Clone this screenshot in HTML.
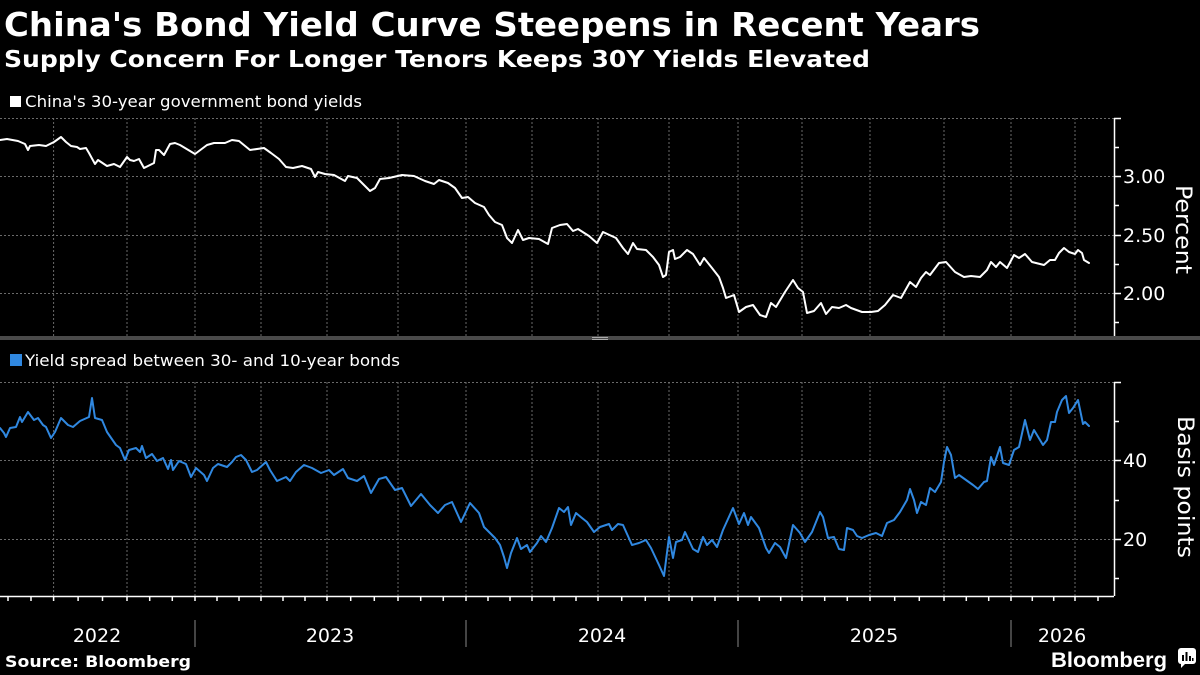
<!DOCTYPE html>
<html>
<head>
<meta charset="utf-8">
<style>
html,body{margin:0;padding:0;background:#000;}
svg{display:block;}
text{font-family:"DejaVu Sans","Liberation Sans",sans-serif;}
</style>
</head>
<body>
<svg width="1200" height="675" viewBox="0 0 1200 675" xmlns="http://www.w3.org/2000/svg">
<rect x="0" y="0" width="1200" height="675" fill="#000"/>

<!-- Titles -->
<text x="4" y="36" font-size="33" font-weight="bold" fill="#fff" textLength="976" lengthAdjust="spacingAndGlyphs">China's Bond Yield Curve Steepens in Recent Years</text>
<text x="4" y="67" font-size="23" font-weight="bold" fill="#fff" textLength="866" lengthAdjust="spacingAndGlyphs">Supply Concern For Longer Tenors Keeps 30Y Yields Elevated</text>

<!-- Legend top -->
<rect x="10" y="96" width="11" height="11" fill="#fff"/>
<text x="25" y="107" font-size="16" fill="#fff" textLength="337" lengthAdjust="spacingAndGlyphs">China's 30-year government bond yields</text>

<!-- Top panel grid -->
<g stroke="#6a6a6a" stroke-width="1" stroke-dasharray="2 2" fill="none">
  <line x1="0" y1="118.5" x2="1114" y2="118.5"/>
  <line x1="0" y1="176.5" x2="1114" y2="176.5"/>
  <line x1="0" y1="235.5" x2="1114" y2="235.5"/>
  <line x1="0" y1="293.5" x2="1114" y2="293.5"/>
  <line x1="53.6" y1="118" x2="53.6" y2="336"/>
  <line x1="127" y1="118" x2="127" y2="336"/>
  <line x1="195" y1="118" x2="195" y2="336"/>
  <line x1="261" y1="118" x2="261" y2="336"/>
  <line x1="327" y1="118" x2="327" y2="336"/>
  <line x1="398" y1="118" x2="398" y2="336"/>
  <line x1="466" y1="118" x2="466" y2="336"/>
  <line x1="532" y1="118" x2="532" y2="336"/>
  <line x1="598" y1="118" x2="598" y2="336"/>
  <line x1="669" y1="118" x2="669" y2="336"/>
  <line x1="738" y1="118" x2="738" y2="336"/>
  <line x1="802" y1="118" x2="802" y2="336"/>
  <line x1="870" y1="118" x2="870" y2="336"/>
  <line x1="944" y1="118" x2="944" y2="336"/>
  <line x1="1011" y1="118" x2="1011" y2="336"/>
  <line x1="1075" y1="118" x2="1075" y2="336"/>
</g>

<!-- Top axis -->
<g stroke="#fff" stroke-width="1.5" fill="none">
  <line x1="1114.5" y1="118" x2="1114.5" y2="336"/>
  <line x1="1114" y1="118.5" x2="1121" y2="118.5"/>
  <line x1="1114" y1="147.5" x2="1119" y2="147.5"/>
  <line x1="1114" y1="176.5" x2="1121" y2="176.5"/>
  <line x1="1114" y1="205.5" x2="1119" y2="205.5"/>
  <line x1="1114" y1="235.5" x2="1121" y2="235.5"/>
  <line x1="1114" y1="264.5" x2="1119" y2="264.5"/>
  <line x1="1114" y1="293.5" x2="1121" y2="293.5"/>
  <line x1="1114" y1="322.5" x2="1119" y2="322.5"/>
</g>
<g font-size="19" fill="#fff">
  <text x="1123" y="183">3.00</text>
  <text x="1123" y="242">2.50</text>
  <text x="1123" y="300">2.00</text>
</g>
<text transform="translate(1176,229.5) rotate(90)" text-anchor="middle" font-size="22" fill="#fff" textLength="89" lengthAdjust="spacingAndGlyphs">Percent</text>

<!-- Top series -->
<polyline fill="none" stroke="#fff" stroke-width="2" stroke-linejoin="round" stroke-linecap="round" points="0,140 7,139 18,141 25,144 28,150 30,146 39,145 46,146 54,142 61,137 66,142 71,146 77,147 80,149 86,148 89,153 95,164 98,160 107,166 114,164 120,167 127,157 130,160 134,161 139,159 144,168 154,163 156,150 159,150 164,155 170,144 175,143 180,145 195,154 207,145 214,143 225,143 232,140 239,141 250,150 264,148 271,153 279,159 286,167 293,168 302,166 311,169 315,177 318,172 325,174 334,175 345,181 348,176 357,178 364,185 370,191 375,188 380,179 389,178 402,175 414,176 425,181 434,184 439,180 448,183 455,188 462,198 468,197 475,203 484,207 489,215 495,222 502,225 507,238 512,243 518,230 523,240 529,238 539,239 548,244 552,228 560,225 567,224 573,231 578,229 589,236 597,243 603,232 616,238 623,248 628,254 633,243 637,249 646,250 653,257 659,265 663,277 666,275 669,252 673,250 675,259 680,257 687,250 693,254 700,265 704,258 712,268 719,277 723,288 726,298 734,295 739,312 746,307 753,305 760,315 766,317 771,303 776,307 785,292 793,280 798,288 803,292 807,313 814,311 821,303 826,314 832,307 839,308 846,305 851,308 862,312 871,312 878,311 885,305 893,295 901,298 910,282 916,287 921,278 926,272 930,275 939,263 946,262 955,272 964,277 971,276 980,277 987,270 991,262 996,267 1000,262 1007,268 1014,255 1019,258 1025,254 1032,262 1044,265 1050,260 1055,260 1059,253 1064,248 1069,252 1075,254 1078,250 1082,253 1084,260 1089,263"/>

<!-- Separator -->
<rect x="0" y="336" width="1200" height="4" fill="#4a4a4a"/>
<rect x="592" y="337" width="16" height="1" fill="#aaa"/>
<rect x="592" y="339" width="16" height="1" fill="#aaa"/>

<!-- Legend bottom -->
<rect x="10" y="354" width="12" height="12" fill="#3088e0"/>
<text x="25" y="366" font-size="16" fill="#fff" textLength="375" lengthAdjust="spacingAndGlyphs">Yield spread between 30- and 10-year bonds</text>

<!-- Bottom panel grid -->
<g stroke="#6a6a6a" stroke-width="1" stroke-dasharray="2 2" fill="none">
  <line x1="0" y1="382.5" x2="1114" y2="382.5"/>
  <line x1="0" y1="460.5" x2="1114" y2="460.5"/>
  <line x1="0" y1="539.5" x2="1114" y2="539.5"/>
  <line x1="53.6" y1="382" x2="53.6" y2="596"/>
  <line x1="127" y1="382" x2="127" y2="596"/>
  <line x1="195" y1="382" x2="195" y2="596"/>
  <line x1="261" y1="382" x2="261" y2="596"/>
  <line x1="327" y1="382" x2="327" y2="596"/>
  <line x1="398" y1="382" x2="398" y2="596"/>
  <line x1="466" y1="382" x2="466" y2="596"/>
  <line x1="532" y1="382" x2="532" y2="596"/>
  <line x1="598" y1="382" x2="598" y2="596"/>
  <line x1="669" y1="382" x2="669" y2="596"/>
  <line x1="738" y1="382" x2="738" y2="596"/>
  <line x1="802" y1="382" x2="802" y2="596"/>
  <line x1="870" y1="382" x2="870" y2="596"/>
  <line x1="944" y1="382" x2="944" y2="596"/>
  <line x1="1011" y1="382" x2="1011" y2="596"/>
  <line x1="1075" y1="382" x2="1075" y2="596"/>
</g>

<!-- Bottom axis -->
<g stroke="#fff" stroke-width="1.5" fill="none">
  <line x1="1114.5" y1="382" x2="1114.5" y2="596"/>
  <line x1="1114" y1="382.5" x2="1121" y2="382.5"/>
  <line x1="1114" y1="421.5" x2="1119" y2="421.5"/>
  <line x1="1114" y1="460.5" x2="1121" y2="460.5"/>
  <line x1="1114" y1="500.5" x2="1119" y2="500.5"/>
  <line x1="1114" y1="539.5" x2="1121" y2="539.5"/>
  <line x1="1114" y1="578.5" x2="1119" y2="578.5"/>
</g>
<g font-size="19" fill="#fff">
  <text x="1123" y="467">40</text>
  <text x="1123" y="546">20</text>
</g>
<text transform="translate(1178,487) rotate(90)" text-anchor="middle" font-size="22" fill="#fff" textLength="142" lengthAdjust="spacingAndGlyphs">Basis points</text>

<!-- Bottom series -->
<polyline fill="none" stroke="#3088e0" stroke-width="2" stroke-linejoin="round" stroke-linecap="round" points="0,428 4,433 6,437 10,428 16,427 20,417 22,422 28,412 34,420 38,418 43,425 46,427 51,438 55,432 61,418 68,425 73,427 80,421 89,417 92,398 95,418 102,420 107,432 116,445 120,448 125,460 129,450 136,448 140,452 142,446 146,458 152,454 157,461 163,458 168,469 171,460 173,470 179,461 186,464 191,477 196,468 204,475 207,481 213,468 218,464 227,467 232,462 236,457 241,455 246,460 252,472 257,470 266,462 270,470 277,481 286,477 290,481 296,472 304,465 312,468 321,473 329,470 334,475 343,469 348,478 357,481 364,476 371,493 379,479 386,477 395,490 402,488 411,506 421,494 430,505 438,513 445,505 452,502 461,522 470,503 479,513 484,527 495,538 500,545 504,557 507,568 511,553 517,538 521,549 527,545 530,552 537,543 541,536 546,542 552,528 559,508 564,512 568,507 571,525 576,513 582,518 587,522 594,532 600,527 609,524 612,530 618,524 623,525 632,545 639,543 646,540 651,548 659,565 664,576 669,537 673,558 676,542 682,540 685,532 693,549 698,552 703,537 707,545 712,540 717,547 723,530 733,508 739,524 744,513 748,525 751,517 759,528 766,548 769,553 775,543 780,547 786,558 793,525 800,533 805,542 812,532 820,512 823,517 828,538 834,537 839,549 844,550 847,528 853,530 857,536 862,538 869,535 876,533 882,536 887,523 894,520 900,512 907,500 910,489 914,500 917,513 921,502 926,505 930,488 935,492 941,482 944,462 947,447 951,455 955,478 959,475 966,480 973,485 978,489 984,482 987,481 991,457 994,465 1000,447 1003,463 1009,465 1014,450 1019,447 1025,420 1030,440 1034,430 1043,445 1047,440 1051,422 1055,422 1057,412 1062,400 1066,396 1069,413 1073,408 1078,400 1083,424 1085,422 1089,426"/>

<!-- X axis -->
<g stroke="#fff" stroke-width="1.5" fill="none">
  <line x1="0" y1="596.5" x2="1114" y2="596.5"/>
  <path d="M8,596V601 M31,596V601 M53.6,596V601 M78.1,596V601 M102.5,596V601 M127,596V601 M149.7,596V601 M172.3,596V601 M195,596V601 M217,596V601 M239,596V601 M261,596V601 M283,596V601 M305,596V601 M327,596V601 M350.7,596V601 M374.3,596V601 M398,596V601 M420.7,596V601 M443.3,596V601 M466,596V601 M488,596V601 M510,596V601 M532,596V601 M554,596V601 M576,596V601 M598,596V601 M621.7,596V601 M645.3,596V601 M669,596V601 M692,596V601 M715,596V601 M738,596V601 M759.3,596V601 M780.7,596V601 M802,596V601 M824.7,596V601 M847.3,596V601 M870,596V601 M894.7,596V601 M919.3,596V601 M944,596V601 M966.3,596V601 M988.7,596V601 M1011,596V601 M1032.3,596V601 M1053.7,596V601 M1075,596V601 M1098,596V601"/>
</g>

<!-- Year separators -->
<g stroke="#888" stroke-width="1" fill="none">
  <line x1="195" y1="620" x2="195" y2="647"/>
  <line x1="466" y1="620" x2="466" y2="647"/>
  <line x1="738" y1="620" x2="738" y2="647"/>
  <line x1="1011" y1="620" x2="1011" y2="647"/>
</g>
<g font-size="19" fill="#fff" text-anchor="middle">
  <text x="97" y="642">2022</text>
  <text x="330" y="642">2023</text>
  <text x="602" y="642">2024</text>
  <text x="874" y="642">2025</text>
  <text x="1062" y="642">2026</text>
</g>

<!-- Footer -->
<text x="5" y="667" font-size="16" font-weight="bold" fill="#fff" textLength="186" lengthAdjust="spacingAndGlyphs">Source: Bloomberg</text>
<text x="1051" y="667" font-size="21" font-weight="bold" fill="#fff" style="font-family:'Liberation Sans',sans-serif" textLength="116" lengthAdjust="spacingAndGlyphs">Bloomberg</text>
<g>
  <rect x="1178" y="648" width="18" height="16" rx="3" fill="#fff"/>
  <path d="M1181,663 L1181,668 L1186,663 Z" fill="#fff"/>
  <rect x="1182" y="655" width="2" height="6" fill="#000"/>
  <rect x="1185.5" y="652" width="2" height="9" fill="#000"/>
  <rect x="1189" y="656" width="2" height="5" fill="#000"/>
  <rect x="1192" y="658" width="1.5" height="3" fill="#000"/>
</g>
</svg>
</body>
</html>
